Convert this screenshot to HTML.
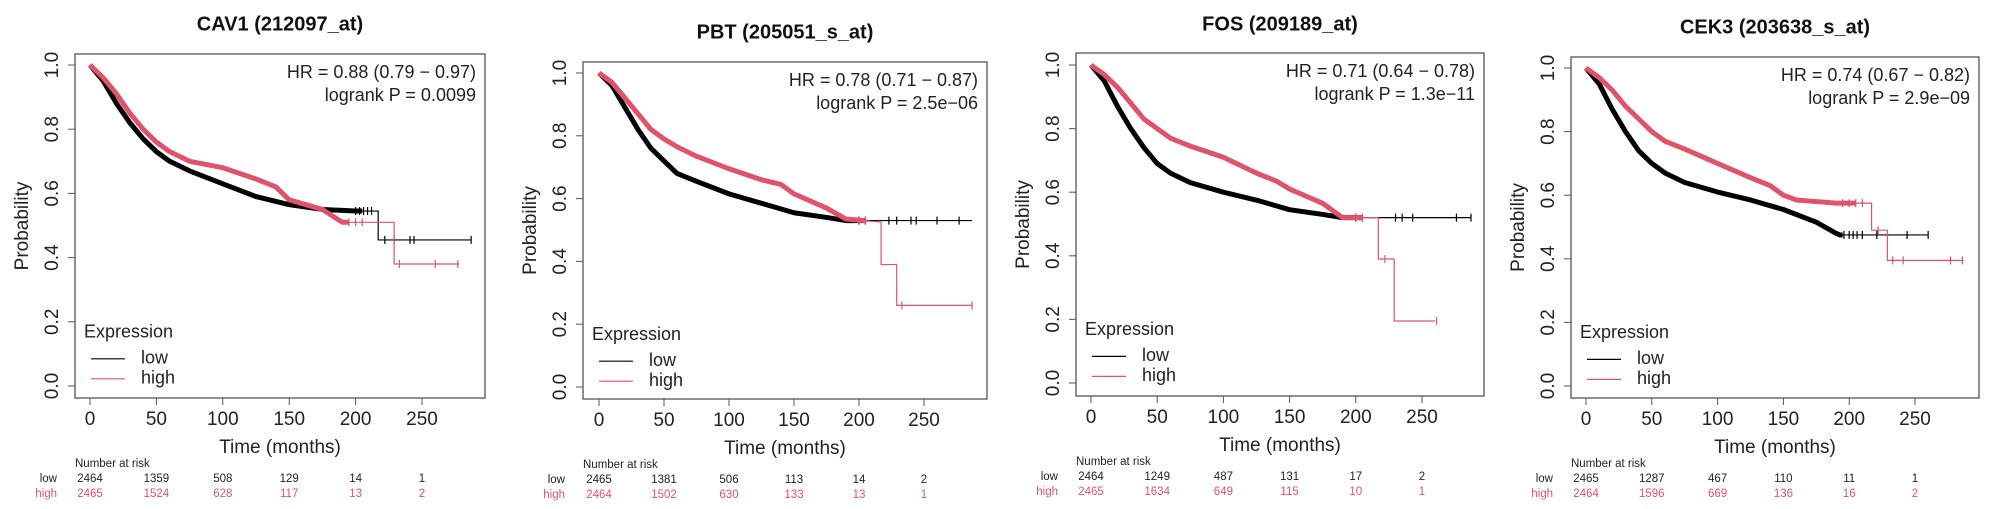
<!DOCTYPE html>
<html><head><meta charset="utf-8">
<style>
html,body{margin:0;padding:0;background:#fff;}
svg{display:block;font-family:"Liberation Sans",sans-serif;}
</style></head>
<body>
<svg id="chart" width="2000" height="509" viewBox="0 0 2000 509" xmlns="http://www.w3.org/2000/svg"></svg>
<script>
const titles = ["CAV1 (212097_at)","PBT (205051_s_at)","FOS (209189_at)","CEK3 (203638_s_at)"];
const hrTexts = ["HR = 0.88 (0.79 \u2212 0.97)","HR = 0.78 (0.71 \u2212 0.87)","HR = 0.71 (0.64 \u2212 0.78)","HR = 0.74 (0.67 \u2212 0.82)"];
const pTexts = ["logrank P = 0.0099","logrank P = 2.5e\u221206","logrank P = 1.3e\u221211","logrank P = 2.9e\u221209"];
const xTicks = [0,50,100,150,200,250];
const yTicks = [0,0.2,0.4,0.6,0.8,1.0];
const yTickLabels = ["0.0","0.2","0.4","0.6","0.8","1.0"];
const riskLow = [[2464,1359,508,129,14,1],[2465,1381,506,113,14,2],[2464,1249,487,131,17,2],[2465,1287,467,110,11,1]];
const riskHigh = [[2465,1524,628,117,13,2],[2464,1502,630,133,13,1],[2465,1634,649,115,10,1],[2464,1596,669,136,16,2]];
// KM curves: times and survival
const lowT = [
 [0,10,20,30,40,50,60,75,100,125,150,175,200,217,217,287],
 [0,10,20,30,40,50,60,75,100,125,150,175,190,287],
 [0,10,20,30,40,50,60,75,100,125,150,175,190,287],
 [0,10,20,30,40,50,60,75,100,125,150,175,190,193,260]];
const lowS = [
 [1,0.95,0.88,0.82,0.77,0.73,0.70,0.67,0.63,0.59,0.565,0.55,0.545,0.545,0.455,0.455],
 [1,0.96,0.89,0.82,0.76,0.72,0.68,0.655,0.615,0.585,0.555,0.54,0.53,0.53],
 [1,0.95,0.87,0.80,0.74,0.69,0.66,0.63,0.60,0.575,0.545,0.53,0.52,0.52],
 [1,0.95,0.87,0.80,0.74,0.70,0.67,0.64,0.61,0.585,0.555,0.515,0.48,0.475,0.475]];
const highT = [
 [0,10,20,30,40,50,60,75,100,125,140,150,175,190,229,229,278],
 [0,10,20,30,40,50,60,75,100,125,140,150,175,190,217,217,229,229,287],
 [0,10,20,30,40,50,60,75,100,125,140,150,175,190,217,217,229,229,260],
 [0,10,20,30,40,50,60,75,100,125,140,150,160,175,190,217,217,229,229,287]];
const highS = [
 [1,0.96,0.91,0.85,0.80,0.76,0.73,0.70,0.68,0.645,0.62,0.58,0.55,0.51,0.51,0.38,0.38],
 [1,0.97,0.92,0.87,0.82,0.79,0.765,0.735,0.695,0.66,0.645,0.615,0.57,0.535,0.525,0.39,0.39,0.26,0.26],
 [1,0.97,0.93,0.88,0.83,0.80,0.77,0.745,0.71,0.66,0.635,0.61,0.565,0.52,0.52,0.39,0.39,0.195,0.195],
 [1,0.97,0.93,0.88,0.84,0.80,0.77,0.745,0.70,0.655,0.63,0.60,0.585,0.58,0.575,0.575,0.49,0.49,0.395,0.395]];
const denseEnd = [[205,195],[205,205],[205,205],[195,205]];
const lowCens = [[200,203,206,209,212,222,229,241,244,287],[200,205,223,229,240,244,260,277],[200,205,230,235,243,276,287],[196,200,203,206,210,221,244,260]];
const highCens = [[195,200,205,233,260,277],[200,205,233,287],[200,205,222,261],[195,200,205,210,222,233,241,277,286]];
// panel geometry
const G = [
 {bx0:75,bx1:485,by0:54,by1:398,x0:90,x250:422,y0:386,y1:65,ty:25},
 {bx0:583,bx1:987,by0:62,by1:399,x0:599,x250:924,y0:387,y1:73,ty:33},
 {bx0:1076,bx1:1484,by0:53,by1:396,x0:1091,x250:1422,y0:383,y1:65,ty:25},
 {bx0:1571,bx1:1979,by0:57,by1:398,x0:1586,x250:1915,y0:386,y1:68,ty:28}];
const RED = "#DF536B";
const svg = document.getElementById('chart');
const NS = "http://www.w3.org/2000/svg";
function mk(tag, attrs, parent, text){
  const e = document.createElementNS(NS, tag);
  for (const k in attrs) e.setAttribute(k, attrs[k]);
  if (text !== undefined) e.textContent = text;
  parent.appendChild(e); return e;
}
function stepPath(T,S,sx,sy,tmax){
  let d = "M"+sx(T[0])+","+sy(S[0]);
  for (let i=1;i<T.length;i++){
    if (tmax!==undefined && T[i]>tmax){ d+=" L"+sx(tmax)+","+sy(S[i-1]+(S[i]-S[i-1])*(tmax-T[i-1])/(T[i]-T[i-1])); break; }
    if (T[i]===T[i-1]) d+=" L"+sx(T[i])+","+sy(S[i]);
    else d+=" L"+sx(T[i])+","+sy(S[i]);
  }
  return d;
}
function survAt(T,S,t){
  let v=S[0];
  for (let i=1;i<T.length;i++){ if (T[i]<=t) v=S[i]; else { if (T[i]!==T[i-1]) v=S[i-1]+(S[i]-S[i-1])*(t-T[i-1])/(T[i]-T[i-1]); break; } }
  return v;
}
for (let p=0;p<4;p++){
  const g = G[p];
  const grp = mk('g',{}, svg);
  
  
  const sx = t => g.x0 + (g.x250-g.x0)*t/250;
  const sy = s => g.y0 + (g.y1-g.y0)*s;
  const cx = (g.bx0+g.bx1)/2;
  const tt = mk('text',{x:cx,y:g.ty,'text-anchor':'middle','font-size':20,'font-weight':'bold',fill:'#111','dominant-baseline':'middle'},grp,titles[p]);
  
  
  const box = mk('rect',{x:g.bx0,y:g.by0,width:g.bx1-g.bx0,height:g.by1-g.by0,fill:'none',stroke:'#555','stroke-width':1.3},grp);
  
  
  // x axis
  const xa = mk('g',{},grp);
  
  
  mk('line',{x1:sx(xTicks[0]),x2:sx(xTicks[xTicks.length-1]),y1:g.by1,y2:g.by1,stroke:'#555'},xa);
  xTicks.forEach(t=>{
    mk('line',{x1:sx(t),x2:sx(t),y1:g.by1,y2:g.by1+7,stroke:'#555'},xa);
    const l = mk('text',{x:sx(t),y:g.by1+22,'text-anchor':'middle','font-size':19,fill:'#222','dominant-baseline':'middle'},xa,String(t));
    
    
  });
  const xt = mk('text',{x:cx,y:g.by1+50,'text-anchor':'middle','font-size':19,fill:'#222','dominant-baseline':'middle'},xa,"Time (months)");
  
  
  // y axis
  const ya = mk('g',{},grp);
  
  
  mk('line',{x1:g.bx0,x2:g.bx0,y1:sy(0),y2:sy(1),stroke:'#555'},ya);
  yTicks.forEach((v,i)=>{
    mk('line',{x1:g.bx0-7,x2:g.bx0,y1:sy(v),y2:sy(v),stroke:'#555'},ya);
    const lx = g.bx0-22, ly = sy(v);
    const l = mk('text',{x:lx,y:ly,'text-anchor':'middle','font-size':19,fill:'#222','dominant-baseline':'middle',transform:`rotate(-90 ${lx} ${ly})`},ya,yTickLabels[i]);
    
    
  });
  const yx = g.bx0-52, yy=(g.by0+g.by1)/2;
  const yt = mk('text',{x:yx,y:yy,'text-anchor':'middle','font-size':19,fill:'#222','dominant-baseline':'middle',transform:`rotate(-90 ${yx} ${yy})`},ya,"Probability");
  
  
  // curves
  const series = [[lowT[p],lowS[p],'#000',denseEnd[p][0],lowCens[p],'low'],[highT[p],highS[p],RED,denseEnd[p][1],highCens[p],'high']];
  series.forEach(([T,S,col,de,cens,nm])=>{
    const sg = mk('g',{},grp);
    
    
    mk('path',{d:stepPath(T,S,sx,sy,de),fill:'none',stroke:col,'stroke-width':5,'stroke-linejoin':'round'},sg);
    mk('path',{d:stepPath(T,S,sx,sy),fill:'none',stroke:col,'stroke-width':1.2},sg);
    cens.forEach(t=>{
      const x=sx(t), y=sy(survAt(T,S,t));
      mk('line',{x1:x,x2:x,y1:y-4,y2:y+4,stroke:col,'stroke-width':1.2},sg);
    });
  });
  // HR text
  const hx = g.bx1-9;
  const h1 = mk('text',{x:hx,y:g.by0+19,'text-anchor':'end','font-size':18,fill:'#222','dominant-baseline':'middle'},grp,hrTexts[p]);
  
  
  const h2 = mk('text',{x:hx,y:g.by0+42,'text-anchor':'end','font-size':18,fill:'#222','dominant-baseline':'middle'},grp,pTexts[p]);
  
  
  // legend
  const lg = mk('g',{},grp);
  
  
  const lx0 = g.bx0+9, lyb = sy(0.2)+11;
  mk('text',{x:lx0,y:lyb,'font-size':18,fill:'#222','dominant-baseline':'middle'},lg,"Expression");
  mk('line',{x1:lx0+7,x2:lx0+41,y1:lyb+26,y2:lyb+26,stroke:'#000','stroke-width':1.2},lg);
  mk('line',{x1:lx0+7,x2:lx0+41,y1:lyb+46,y2:lyb+46,stroke:RED,'stroke-width':1.2},lg);
  mk('text',{x:lx0+57,y:lyb+26,'font-size':18,fill:'#222','dominant-baseline':'middle'},lg,"low");
  mk('text',{x:lx0+57,y:lyb+46,'font-size':18,fill:'#222','dominant-baseline':'middle'},lg,"high");
  // risk table
  const rt = mk('g',{},grp);
  
  
  const ry = g.by1+66;
  mk('text',{x:g.bx0,y:ry,'font-size':11.5,fill:'#222','dominant-baseline':'middle'},rt,"Number at risk");
  mk('text',{x:g.bx0-18,y:ry+15,'text-anchor':'end','font-size':11.5,fill:'#222','dominant-baseline':'middle'},rt,"low");
  mk('text',{x:g.bx0-18,y:ry+30,'text-anchor':'end','font-size':11.5,fill:RED,'dominant-baseline':'middle'},rt,"high");
  xTicks.forEach((t,i)=>{
    mk('text',{x:sx(t),y:ry+15,'text-anchor':'middle','font-size':11.5,fill:'#222','dominant-baseline':'middle'},rt,String(riskLow[p][i]));
    mk('text',{x:sx(t),y:ry+30,'text-anchor':'middle','font-size':11.5,fill:RED,'dominant-baseline':'middle'},rt,String(riskHigh[p][i]));
  });
}
</script>
</body></html>
